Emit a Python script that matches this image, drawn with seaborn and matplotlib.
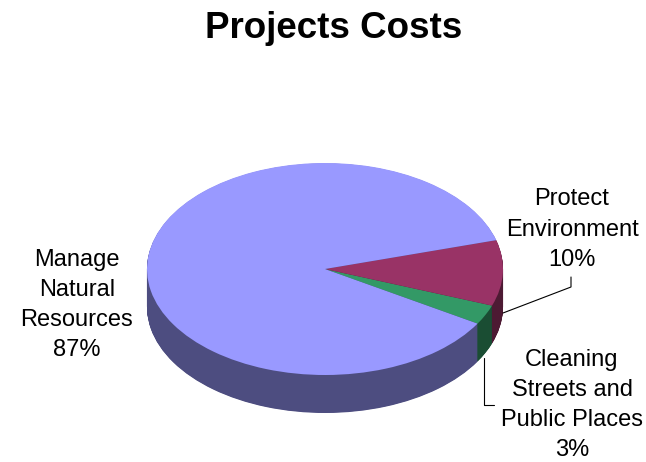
import matplotlib
matplotlib.use("Agg")
import matplotlib.pyplot as plt
import seaborn as sns

sns.set_theme(style="white")
plt.rcParams['font.family'] = ['Liberation Sans', 'DejaVu Sans']

categories = ["Cleaning\nStreets and\nPublic Places", "Protect\nEnvironment", "Manage\nNatural\nResources"]
values = [3, 10, 87]
top_colors = ["#339966", "#993366", "#9999FF"]
side_colors = ["#1A4D33", "#4D1A33", "#4D4D80"]
start_angle = -31

W, H = 646, 462
fig = plt.figure(figsize=(W / 100, H / 100), dpi=100)
ax = fig.add_axes([0, 0, 1, 1])

cx, cy, rx, ry, depth = 325, 269, 178, 106, 38
for k in range(depth * 2, 0, -1):
    ax.pie(values, colors=side_colors, startangle=start_angle, counterclock=True,
           center=(0, -k / 2 / ry), wedgeprops=dict(linewidth=0))
ax.pie(values, colors=top_colors, startangle=start_angle, counterclock=True,
       center=(0, 0), wedgeprops=dict(linewidth=0))
ax.set_aspect("auto")
ax.set_xlim((0 - cx) / rx, (W - cx) / rx)
ax.set_ylim((cy - H) / ry, cy / ry)
ax.axis("off")

def px(x, y):
    return (x - cx) / rx, (cy - y) / ry

fs = 17
ls = 1.49
ax.text(*px(334, 29), "Projects Costs", fontsize=26.5, fontweight="bold", ha="center", va="center", color="black")
ax.text(*px(77, 305), f"{categories[2]}\n{values[2]}%", fontsize=fs, ha="center", va="center", linespacing=ls, color="black")
ax.text(*px(572, 229.5), f"{categories[1]}\n{values[1]}%", fontsize=fs, ha="center", va="center", linespacing=ls, color="black")
ax.text(*px(572, 405), f"{categories[0]}\n{values[0]}%", fontsize=fs, ha="center", va="center", linespacing=ls, color="black")

ax.plot(*zip(px(503, 313), px(571, 287), px(571, 277)), color="black", lw=0.8, clip_on=False)
ax.plot(*zip(px(484, 358), px(484, 405), px(494, 405)), color="black", lw=0.8, clip_on=False)

fig.savefig("out.png", dpi=100)
